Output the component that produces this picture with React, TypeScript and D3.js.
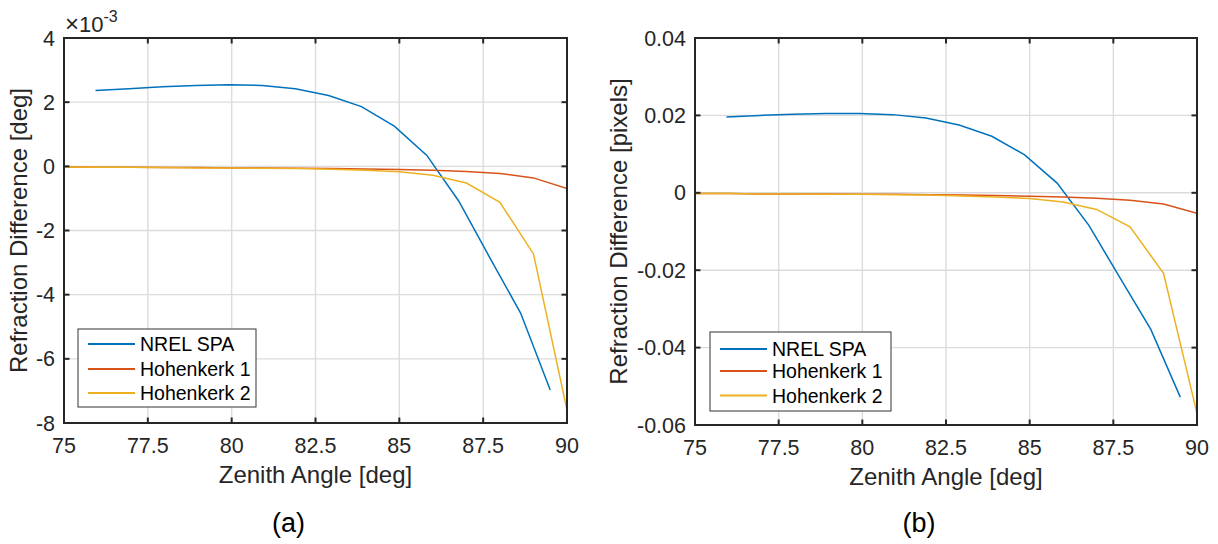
import React, { useEffect, useRef } from "react";
import * as d3 from "d3";

// apparent zenith angles used for the NREL SPA comparison
const spaZenith = [75.94, 76.94, 77.93, 78.93, 79.92, 80.91, 81.9, 82.89, 83.87, 84.85, 85.82, 86.77, 87.7, 88.62, 89.5];
const hohZenith = [75, 76, 77, 78, 79, 80, 81, 82, 83, 84, 85, 86, 87, 88, 89, 90];

// panel (a): refraction difference in units of 1e-3 deg
const spaDeg = [2.36, 2.42, 2.48, 2.52, 2.54, 2.52, 2.42, 2.21, 1.86, 1.25, 0.34, -1.08, -2.85, -4.58, -6.97];
const hoh1Deg = [-0.02, -0.03, -0.03, -0.04, -0.04, -0.05, -0.05, -0.06, -0.07, -0.08, -0.1, -0.12, -0.16, -0.22, -0.36, -0.69];
const hoh2Deg = [-0.02, -0.03, -0.03, -0.04, -0.05, -0.05, -0.06, -0.07, -0.09, -0.12, -0.17, -0.28, -0.52, -1.12, -2.73, -7.6];

// panel (b): refraction difference in pixels
const spaPx = [0.0196, 0.02, 0.0203, 0.0205, 0.0205, 0.0202, 0.0193, 0.0175, 0.0146, 0.0098, 0.0025, -0.0084, -0.022, -0.0353, -0.0528];
const hoh1Px = [-0.0002, -0.0002, -0.0003, -0.0003, -0.0003, -0.0004, -0.0004, -0.0005, -0.0006, -0.0007, -0.0009, -0.0011, -0.0014, -0.0019, -0.0029, -0.0053];
const hoh2Px = [-0.0002, -0.0002, -0.0003, -0.0003, -0.0004, -0.0004, -0.0005, -0.0006, -0.0008, -0.0011, -0.0015, -0.0024, -0.0043, -0.0088, -0.0208, -0.057];

const xTicks = [75, 77.5, 80, 82.5, 85, 87.5, 90];
const xTickLabels = ["75", "77.5", "80", "82.5", "85", "87.5", "90"];
const yTicksA = [-8, -6, -4, -2, 0, 2, 4];
const yTicksB = [-0.06, -0.04, -0.02, 0, 0.02, 0.04];
const yTickLabelsB = ["-0.06", "-0.04", "-0.02", "0", "0.02", "0.04"];

const seriesNames = ["NREL SPA", "Hohenkerk 1", "Hohenkerk 2"];
const colors = ["#0072BD", "#D95319", "#EDB120"];

const FONT = "'Liberation Sans', Arial, Helvetica, sans-serif";
const INK = "#262626";

function drawPanel(svg, opts) {
  const { left, right, top, bottom, yDomain, yTicks, yLabels, spa, h1, h2, ylabel, ylabelX, tag, legend, exponent } = opts;
  const g = svg.append("g");
  const x = d3.scaleLinear().domain([75, 90]).range([left, right]);
  const y = d3.scaleLinear().domain(yDomain).range([bottom, top]);

  const clipId = "clip-" + tag.replace(/[()]/g, "");
  g.append("clipPath").attr("id", clipId)
    .append("rect").attr("x", left).attr("y", top).attr("width", right - left).attr("height", bottom - top);

  // grid
  g.selectAll(".gx").data(xTicks).enter().append("line")
    .attr("x1", (d) => x(d)).attr("x2", (d) => x(d)).attr("y1", top).attr("y2", bottom)
    .attr("stroke", "#dcdcdc").attr("stroke-width", 1.4);
  g.selectAll(".gy").data(yTicks).enter().append("line")
    .attr("x1", left).attr("x2", right).attr("y1", (d) => y(d)).attr("y2", (d) => y(d))
    .attr("stroke", "#dcdcdc").attr("stroke-width", 1.4);

  // data lines
  const line = d3.line().x((d) => x(d[0])).y((d) => y(d[1]));
  const sets = [
    spaZenith.map((z, i) => [z, spa[i]]),
    hohZenith.map((z, i) => [z, h1[i]]),
    hohZenith.map((z, i) => [z, h2[i]]),
  ];
  sets.forEach((pts, i) => {
    g.append("path").attr("d", line(pts)).attr("fill", "none")
      .attr("stroke", colors[i]).attr("stroke-width", 1.5)
      .attr("clip-path", `url(#${clipId})`);
  });

  // box
  g.append("rect").attr("x", left).attr("y", top).attr("width", right - left).attr("height", bottom - top)
    .attr("fill", "none").attr("stroke", INK).attr("stroke-width", 2);

  // ticks (inward, on all four sides)
  const tl = 5.5;
  xTicks.forEach((t) => {
    g.append("line").attr("x1", x(t)).attr("x2", x(t)).attr("y1", bottom).attr("y2", bottom - tl).attr("stroke", INK).attr("stroke-width", 2);
    g.append("line").attr("x1", x(t)).attr("x2", x(t)).attr("y1", top).attr("y2", top + tl).attr("stroke", INK).attr("stroke-width", 2);
  });
  yTicks.forEach((t) => {
    g.append("line").attr("x1", left).attr("x2", left + tl).attr("y1", y(t)).attr("y2", y(t)).attr("stroke", INK).attr("stroke-width", 2);
    g.append("line").attr("x1", right).attr("x2", right - tl).attr("y1", y(t)).attr("y2", y(t)).attr("stroke", INK).attr("stroke-width", 2);
  });

  // tick labels
  g.selectAll(".xl").data(xTicks).enter().append("text")
    .attr("x", (d) => x(d)).attr("y", bottom + 29.5).attr("text-anchor", "middle")
    .attr("font-family", FONT).attr("font-size", 21.5).attr("fill", INK)
    .text((d, i) => xTickLabels[i]);
  g.selectAll(".yl").data(yTicks).enter().append("text")
    .attr("x", left - 9).attr("y", (d) => y(d) + 7.5).attr("text-anchor", "end")
    .attr("font-family", FONT).attr("font-size", 21.5).attr("fill", INK)
    .text((d, i) => yLabels[i]);

  // axis labels
  g.append("text").attr("x", (left + right) / 2).attr("y", bottom + 59.5).attr("text-anchor", "middle")
    .attr("font-family", FONT).attr("font-size", 24).attr("fill", INK).text("Zenith Angle [deg]");
  g.append("text").attr("transform", `translate(${ylabelX},${(top + bottom) / 2}) rotate(-90)`)
    .attr("text-anchor", "middle").attr("font-family", FONT).attr("font-size", 24).attr("fill", INK).text(ylabel);

  if (exponent) {
    const t = g.append("text").attr("x", left + 1).attr("y", 31.5).attr("font-family", FONT).attr("fill", INK).attr("font-size", 22);
    t.append("tspan").attr("font-size", 24).text("×");
    t.append("tspan").text("10");
    t.append("tspan").attr("font-size", 16).attr("dy", -10).text("-3");
  }

  // legend
  const lg = g.append("g");
  lg.append("rect").attr("x", legend.x).attr("y", legend.y).attr("width", legend.w).attr("height", legend.h)
    .attr("fill", "#fff").attr("stroke", "#333").attr("stroke-width", 1);
  seriesNames.forEach((name, i) => {
    const ry = legend.rows[i];
    lg.append("line").attr("x1", legend.x + 10).attr("x2", legend.x + 57).attr("y1", ry).attr("y2", ry)
      .attr("stroke", colors[i]).attr("stroke-width", 2);
    lg.append("text").attr("x", legend.x + 62).attr("y", ry + 7)
      .attr("font-family", FONT).attr("font-size", 19.5).attr("fill", "#000").text(name);
  });

  // panel tag
  g.append("text").attr("x", (left + right) / 2 - 27).attr("y", 532).attr("text-anchor", "middle")
    .attr("font-family", FONT).attr("font-size", 27).attr("fill", "#000").text(tag);
}

const App = () => {
  const svgRef = useRef(null);

  useEffect(() => {
    const svg = d3.select(svgRef.current);
    svg.selectAll("*").remove();
    drawPanel(svg, {
      left: 64, right: 567, top: 38, bottom: 423,
      yDomain: [-8, 4], yTicks: yTicksA, yLabels: yTicksA.map(String),
      spa: spaDeg, h1: hoh1Deg, h2: hoh2Deg,
      ylabel: "Refraction Difference [deg]", ylabelX: 27, tag: "(a)",
      legend: { x: 78, y: 329, w: 178, h: 78, rows: [344, 369, 393] },
      exponent: true,
    });
    drawPanel(svg, {
      left: 695, right: 1197, top: 38, bottom: 425,
      yDomain: [-0.06, 0.04], yTicks: yTicksB, yLabels: yTickLabelsB,
      spa: spaPx, h1: hoh1Px, h2: hoh2Px,
      ylabel: "Refraction Difference [pixels]", ylabelX: 627, tag: "(b)",
      legend: { x: 710, y: 332, w: 181, h: 79, rows: [349, 371, 395.5] },
      exponent: false,
    });
  }, []);

  return (
    <div style={{ position: "absolute", left: 0, top: 0 }}>
      <svg ref={svgRef} width={1218} height={544} style={{ display: "block", background: "#fff" }} />
    </div>
  );
};

export default App;
